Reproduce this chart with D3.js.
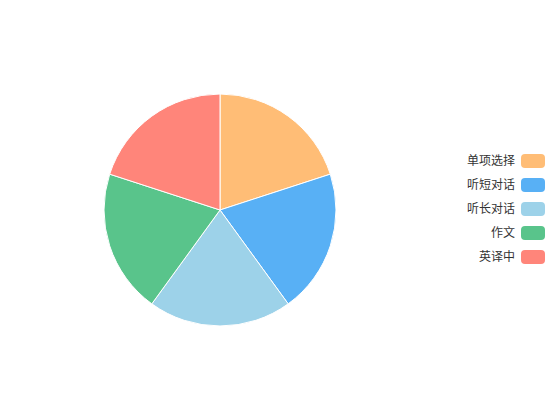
<!DOCTYPE html>
<html><head><meta charset="utf-8">
<script src="https://cdn.jsdelivr.net/npm/d3@7/dist/d3.min.js"></script>
<style>html,body{margin:0;padding:0;background:#fff;}svg{display:block;}</style>
</head><body>
<svg id="chart" width="550" height="420"></svg>
<script>
const categories = ["单项选择", "听短对话", "听长对话", "作文", "英译中"];
const values = [20, 20, 20, 20, 20];
const colors = ["#ffbd76", "#58b0f5", "#9dd2e9", "#59c48b", "#ff857a"];

const svg = d3.select("#chart");
const cx = 220, cy = 210, r = 116;
const data = categories.map((c, i) => ({name: c, value: values[i], color: colors[i]}));
const pie = d3.pie().value(d => d.value).sort(null);
const arc = d3.arc().innerRadius(0).outerRadius(r);
svg.append("g").attr("transform", `translate(${cx},${cy})`)
  .selectAll("path").data(pie(data)).join("path")
  .attr("d", arc).attr("fill", d => d.data.color)
  .attr("stroke", "#fff").attr("stroke-width", 1);

const legend = svg.append("g");
const y = d3.scalePoint().domain(categories).range([161, 257]);
const items = legend.selectAll("g").data(data).join("g")
  .attr("transform", d => `translate(0,${y(d.name)})`);
items.append("rect").attr("x", 521).attr("y", -7).attr("width", 24).attr("height", 14)
  .attr("rx", 4).attr("fill", d => d.color);
items.append("text").attr("x", 515).attr("y", 0).attr("dy", "0.35em")
  .attr("text-anchor", "end").attr("font-size", 12)
  .attr("font-family", "'Noto Sans CJK SC', sans-serif").attr("fill", "#333")
  .text(d => d.name);
</script>
</body></html>
